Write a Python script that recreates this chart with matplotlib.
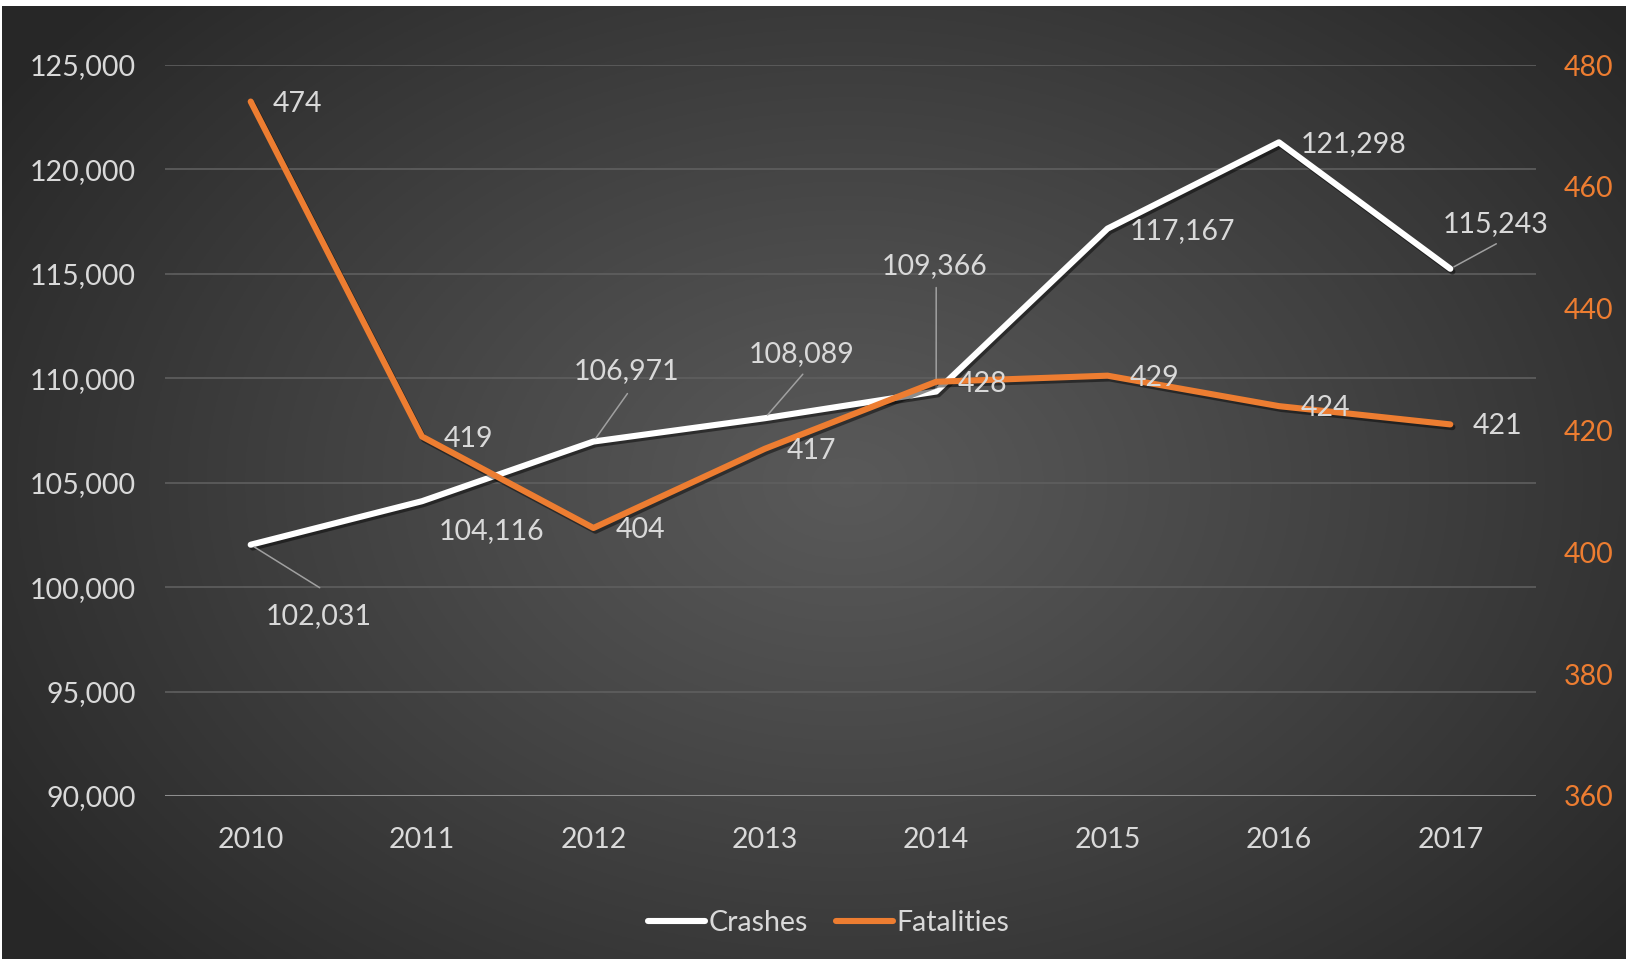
import numpy as np
import matplotlib
matplotlib.use("Agg")
import matplotlib.pyplot as plt
import matplotlib.patheffects as pe
from matplotlib.ticker import FuncFormatter, MultipleLocator

plt.rcParams['font.family'] = ['Lato', 'DejaVu Sans']

years = ['2010', '2011', '2012', '2013', '2014', '2015', '2016', '2017']
crashes = [102031, 104116, 106971, 108089, 109366, 117167, 121298, 115243]
fatalities = [474, 419, 404, 417, 428, 429, 424, 421]

TEXT = '#d9d9d9'
ORANGE = '#ed7d31'
W, H = 1626, 959
FS = 20.5

fig = plt.figure(figsize=(W / 100, H / 100), dpi=100, facecolor='white')

# radial gradient backdrop
bg = fig.add_axes([2 / W, 0, 1 - 2 / W, 1 - 6 / H])
bg.set_axis_off()
yy, xx = np.mgrid[0:1:400j, 0:1:700j]
r = np.sqrt(((xx - 0.52) / 0.62) ** 2 + ((yy - 0.5) / 0.75) ** 2)
r = np.clip(r, 0, 1)
c = 0.35 - (0.35 - 0.155) * r ** 1.1
img = np.dstack([c, c, c])
bg.imshow(img, extent=[0, 1, 0, 1], aspect='auto', origin='lower')
bg.set_xlim(0, 1)
bg.set_ylim(0, 1)

ax = fig.add_axes([165 / W, (H - 796) / H, (1536 - 165) / W, (796 - 65) / H])
ax.patch.set_alpha(0)
ax2 = ax.twinx()
ax2.patch.set_alpha(0)

x = np.arange(len(years))
shadow = [pe.SimpleLineShadow(offset=(1.5, -2), alpha=0.45, shadow_color='black'), pe.Normal()]
ax.plot(x, crashes, color='white', lw=4.4, solid_capstyle='round', solid_joinstyle='round',
        path_effects=shadow, zorder=3, label='Crashes')
ax2.plot(x, fatalities, color=ORANGE, lw=4.4, solid_capstyle='round', solid_joinstyle='round',
         path_effects=shadow, zorder=3, label='Fatalities')

ax.set_xlim(-0.5, len(years) - 0.5)
ax.set_ylim(90000, 125000)
ax2.set_ylim(360, 480)
ax.yaxis.set_major_locator(MultipleLocator(5000))
ax2.yaxis.set_major_locator(MultipleLocator(20))
ax.yaxis.set_major_formatter(FuncFormatter(lambda v, p: f'{v:,.0f}'))

ax.set_xticks(x)
ax.set_xticklabels(years)
ax.tick_params(axis='x', length=0, pad=22, labelsize=FS, labelcolor=TEXT)
ax.tick_params(axis='y', length=0, pad=21, labelsize=FS, labelcolor=TEXT)
ax2.tick_params(axis='y', length=0, pad=20, labelsize=FS, labelcolor=ORANGE)

for a in (ax, ax2):
    for s in a.spines.values():
        s.set_visible(False)
ax.grid(axis='y', color='#5f5f5f', lw=1.2)
ax.set_axisbelow(True)
ax.axhline(90000, color='#8e8e8e', lw=2.2, zorder=2)

# crash labels: (dx, dy) pixel offset of text centre, optional leader end
crash_offsets = [(68, -71), (69, -30), (33, 71), (37, 64), (-2, 125), (75, -2), (75, -2), (45, 45)]
crash_leaders = [(69, -43), None, (34, 48), (38, 44), (0, 104), None, None, (46, 25)]
for i, (v, off, lead) in enumerate(zip(crashes, crash_offsets, crash_leaders)):
    if lead is not None:
        ax.annotate('', xy=(i, v), xytext=lead, textcoords='offset pixels',
                    arrowprops=dict(arrowstyle='-', color='#a0a0a0', lw=1.1,
                                    shrinkA=0, shrinkB=3), zorder=4)
    ax.annotate(f'{v:,}', xy=(i, v), xytext=off, textcoords='offset pixels',
                ha='center', va='center', fontsize=FS, color=TEXT, zorder=5)

for i, v in enumerate(fatalities):
    ax2.annotate(f'{v}', xy=(i, v), xytext=(22, -2), textcoords='offset pixels',
                 ha='left', va='center', fontsize=FS, color=TEXT, zorder=5)

h1, l1 = ax.get_legend_handles_labels()
h2, l2 = ax2.get_legend_handles_labels()
leg = fig.legend(h1 + h2, l1 + l2, loc='center', bbox_to_anchor=(829 / W, 1 - 923 / H),
                 ncol=2, frameon=False, fontsize=FS, handlelength=2.0, handletextpad=0.12,
                 columnspacing=1.0)
for t in leg.get_texts():
    t.set_color(TEXT)
for ln in leg.get_lines():
    ln.set_path_effects([])

fig.savefig('out.png', dpi=100, facecolor=fig.get_facecolor())
